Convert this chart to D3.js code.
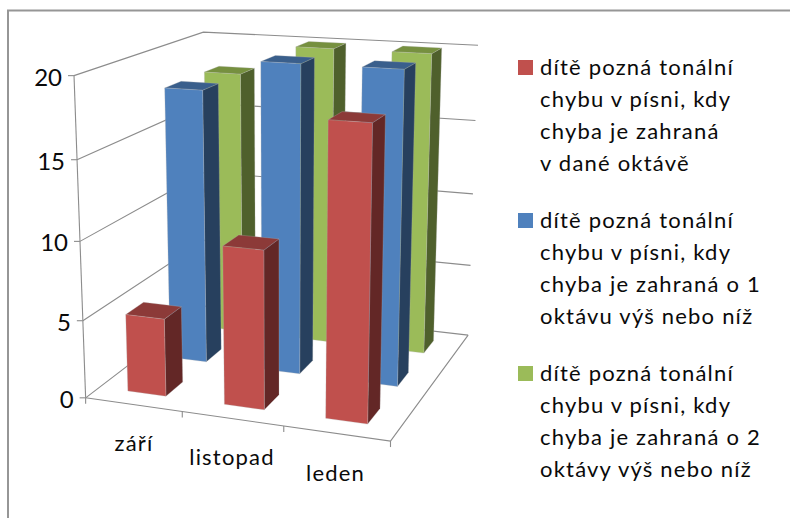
<!DOCTYPE html>
<html><head><meta charset="utf-8">
<script src="https://cdn.jsdelivr.net/npm/d3@7"></script>
<style>html,body{margin:0;background:#fff}svg{display:block}text{font-family:Lato,"Open Sans",sans-serif;fill:#0a0a0a}</style>
</head><body><svg id="c" width="790" height="518"></svg>
<script>
const categories = ["září","listopad","leden"];
const seriesNames = ["red","blue","green"];
const seriesColors = {red:["#c0504d","#8c3a38","#632726"],blue:["#4f81bd","#3a5f8c","#27405e"],green:["#9bbb59","#76903f","#4f602c"]};
const redValues = [5,10,18];
const blueValues = [18,20,20];
const greenValues = [18,20,20];
const valueTicks = [0,5,10,15,20];
const legendRed = ["dítě pozná tonální","chybu v písni, kdy","chyba je zahraná","v dané oktávě"];
const legendBlue = ["dítě pozná tonální","chybu v písni, kdy","chyba je zahraná o 1","oktávu výš nebo níž"];
const legendGreen = ["dítě pozná tonální","chybu v písni, kdy","chyba je zahraná o 2","oktávy výš nebo níž"];

// 3D projection fitted to the observed corners of the plot box  [x(0..1), h(0..1), z(0..1)] -> [px,py]
const anchors = [
 [[0,0,0],[86,398]],[[1,0,0],[390,442]],[[1,0,1],[468,334]],[[0,0,1],[207,306]],
 [[0,1,0],[74,76]],[[0,1,1],[203,32]],[[1,1,1],[478,46]],
 [[0,.75,0],[77,159]],[[0,.25,0],[83,320]],[[1,.75,1],[476,120]],[[1,.5,1],[473,194]]
];
function fit(pts){
  const n=11, A=Array.from({length:n},()=>new Array(n+1).fill(0));
  const add=(r,b)=>{for(let i=0;i<n;i++){for(let j=0;j<n;j++)A[i][j]+=r[i]*r[j];A[i][n]+=r[i]*b;}};
  pts.forEach(([[x,y,z],[u,v]])=>{
    add([x,y,z,1,0,0,0,0,-u*x,-u*y,-u*z],u);
    add([0,0,0,0,x,y,z,1,-v*x,-v*y,-v*z],v);
  });
  for(let i=0;i<n;i++){
    let p=i;for(let k=i+1;k<n;k++)if(Math.abs(A[k][i])>Math.abs(A[p][i]))p=k;
    [A[i],A[p]]=[A[p],A[i]];
    for(let k=0;k<n;k++){if(k===i)continue;const f=A[k][i]/A[i][i];for(let j=i;j<=n;j++)A[k][j]-=f*A[i][j];}
  }
  return A.map((r,i)=>r[n]/r[i]);
}
const m=fit(anchors);
const proj=(x,h,z)=>{const w=m[8]*x+m[9]*h+m[10]*z+1;return [(m[0]*x+m[1]*h+m[2]*z+m[3])/w,(m[4]*x+m[5]*h+m[6]*z+m[7])/w];};

const svg=d3.select("#c");
// chart frame: only its top and left edges fall inside the crop
svg.append("path").attr("d","M8,518V10.5H790").attr("fill","none").attr("stroke","#969696").attr("stroke-width",2);

const xBand=d3.scaleBand().domain(categories).range([0,1]).paddingInner(.6).paddingOuter(.3);
const zBand=d3.scaleBand().domain(seriesNames).range([0,1]).paddingInner(.6).paddingOuter(.3);
const yScale=d3.scaleLinear().domain([0,20]).range([0,1]);
const xStep=d3.scaleLinear().domain([0,3]).range([0,1]);
const line=d3.line();
const grid="#8c8c8c";
const G=svg.append("g").attr("fill","none").attr("stroke",grid).attr("stroke-width",1.1);
valueTicks.forEach(t=>{const h=yScale(t);
  G.append("path").attr("d",line([proj(0,h,0),proj(0,h,1),proj(1,h,1)]));
  const a=proj(0,h,0);G.append("path").attr("d",line([[a[0]-6,a[1]],a]));
});
G.append("path").attr("d",line([proj(0,0,0),proj(0,1,0)]));
G.append("path").attr("d",line([proj(0,0,0),proj(1,0,0),proj(1,0,1)]));
d3.range(0,4).forEach(i=>{const a=proj(xStep(i),0,0);G.append("path").attr("d",line([a,[a[0],a[1]+6]]));});

const seriesVals={red:redValues,blue:blueValues,green:greenValues};
const bars=[];
seriesNames.forEach(s=>categories.forEach((c,i)=>bars.push({s,c,v:seriesVals[s][i]})));
bars.sort((a,b)=>d3.descending(zBand(a.s),zBand(b.s))||d3.ascending(xBand(a.c),xBand(b.c)));
const B=svg.append("g");
bars.forEach(d=>{
  const x0=xBand(d.c),x1=x0+xBand.bandwidth(),z0=zBand(d.s),z1=z0+zBand.bandwidth(),h=yScale(d.v),col=seriesColors[d.s];
  const face=(pts,f)=>B.append("path").attr("d",line(pts)+"Z").attr("fill",f).attr("stroke","#b4b4b4").attr("stroke-opacity",.35).attr("stroke-width",.8);
  face([proj(x1,0,z0),proj(x1,0,z1),proj(x1,h,z1),proj(x1,h,z0)],col[2]);
  face([proj(x0,h,z0),proj(x1,h,z0),proj(x1,h,z1),proj(x0,h,z1)],col[1]);
  face([proj(x0,0,z0),proj(x1,0,z0),proj(x1,h,z0),proj(x0,h,z0)],col[0]);
});

const T=svg.append("g");
valueTicks.forEach(t=>{const a=proj(0,yScale(t),0);
  T.append("text").attr("x",a[0]-12).attr("y",a[1]+10).attr("text-anchor","end").attr("font-size",24).text(t);});
const labelPos=[[134,451],[232,465],[335.5,481]];
categories.forEach((c,i)=>T.append("text").attr("x",labelPos[i][0]).attr("y",labelPos[i][1]).attr("text-anchor","middle").attr("font-size",22).attr("letter-spacing",1.2).text(c));

const legendBlocks=[[legendRed,"red",75],[legendBlue,"blue",228],[legendGreen,"green",381]];
legendBlocks.forEach(([lines,s,y0])=>{
  T.append("rect").attr("x",518).attr("y",y0-15).attr("width",15).attr("height",15).attr("fill",seriesColors[s][0]);
  lines.forEach((l,i)=>T.append("text").attr("x",540).attr("y",y0+i*32).attr("font-size",22).attr("letter-spacing",1.2).text(l));
});
</script></body></html>
